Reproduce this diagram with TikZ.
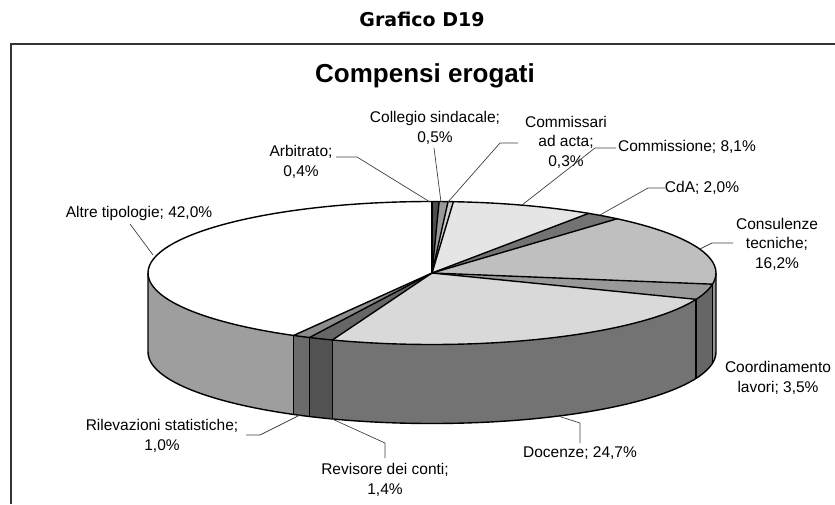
\documentclass[tikz,border=0pt]{standalone}
\usepackage{fontspec}
\setmainfont{Liberation Sans}
\newfontfamily\headfont{DejaVu Sans}
\usetikzlibrary{calc}
\begin{document}
\begin{tikzpicture}[x=1pt,y=1pt]
\useasboundingbox (0,0) rectangle (835,504);
\tikzset{
  lbl/.style={font=\fontsize{15.5}{19.5}\selectfont, align=center, inner sep=0pt},
  leader/.style={draw=black!75, line width=0.7pt},
  pieedge/.style={draw=black, line width=1.4pt, line join=round},
  frameline/.style={draw=black!80, line width=1.2pt},
  ell/.style={x radius=284, y radius=71.5},
}
\coordinate (C) at (432,231);
% frame
\coordinate (fTL) at (11,460);
\coordinate (fTR) at (835,460);
\coordinate (fBL) at (11,0);
\draw[frameline] (fBL) -- (fTL) -- (fTR);
% titles
\node[font=\headfont\bfseries\fontsize{19}{22}\selectfont] (t1) at (422,485) {Grafico D19};
\node[font=\bfseries\fontsize{26}{30}\selectfont] (t2) at (425,428) {Compensi erogati};
% side faces
\foreach \s/\e/\c in {0/-9/black!42, -9/-21.6/black!60, -21.6/-110.52/black!55, -110.52/-115.56/black!68, -115.56/-119.16/black!58, -119.16/-180/black!38}{
  \fill[\c] ([shift={(\s:284 and 71.5)}]C) arc[start angle=\s,end angle=\e,ell] -- ++(0,-79) arc[start angle=\e,end angle=\s,ell] -- cycle;
}
% top faces
\foreach \a/\b/\c in {90/88.56/black!70, 88.56/86.76/black!40, 86.76/85.68/black!20, 85.68/56.52/black!10, 56.52/49.32/black!55, 49.32/-9/black!25, -9/-21.6/black!40, -21.6/-110.52/black!15, -110.52/-115.56/black!60, -115.56/-119.16/black!45, -119.16/-270/white}{
  \fill[\c] (C) -- ([shift={(\a:284 and 71.5)}]C) arc[start angle=\a,end angle=\b,ell] -- cycle;
}
% outlines
\draw[pieedge] (C) ellipse[ell];
\draw[pieedge] ([shift={(0:284 and 71.5)}]C) -- ++(0,-79) arc[start angle=0,end angle=-180,ell] -- ++(0,79);
\foreach \a in {-9,-21.6,-110.52,-115.56,-119.16}{
  \draw[pieedge] ([shift={(\a:284 and 71.5)}]C) -- ++(0,-79);
}
\foreach \a in {90,88.56,86.76,85.68,56.52,49.32,-9,-21.6,-110.52,-115.56,-119.16}{
  \draw[pieedge] (C) -- ([shift={(\a:284 and 71.5)}]C);
}
% labels
\node[lbl] (lAltre) at (139,291) {Altre tipologie; 42,0\%};
\node[lbl] (lArb) at (301,342) {Arbitrato;\\0,4\%};
\node[lbl] (lColl) at (435,376) {Collegio sindacale;\\0,5\%};
\node[lbl] (lComm) at (566,362) {Commissari\\ad acta;\\0,3\%};
\node[lbl] (lCom) at (687,357) {Commissione; 8,1\%};
\node[lbl] (lCdA) at (702,316) {CdA; 2,0\%};
\node[lbl] (lCons) at (777,260) {Consulenze\\tecniche;\\16,2\%};
\node[lbl] (lCoord) at (778,126) {Coordinamento\\lavori; 3,5\%};
\node[lbl] (lDoc) at (580,51) {Docenze; 24,7\%};
\node[lbl] (lRev) at (385,24) {Revisore dei conti;\\1,4\%};
\node[lbl] (lRil) at (162,68) {Rilevazioni statistiche;\\1,0\%};
% leader points
\coordinate (aAltre) at (130,280); \coordinate (eAltre) at (153,249);
\coordinate (aArb) at (336,347); \coordinate (kArb) at (357,347); \coordinate (eArb) at (430,302);
\coordinate (aColl) at (434,356); \coordinate (eColl) at (441,302);
\coordinate (aComm) at (518,361); \coordinate (kComm) at (500,361); \coordinate (eComm) at (448,302);
\coordinate (aCom) at (616,356); \coordinate (kCom) at (595,356); \coordinate (eCom) at (522,299);
\coordinate (aCdA) at (665,316); \coordinate (kCdA) at (648,316); \coordinate (eCdA) at (600,289);
\coordinate (aCons) at (733,261); \coordinate (kCons) at (712,261); \coordinate (eCons) at (700,255);
\coordinate (aDoc) at (580,61); \coordinate (kDoc) at (580,81); \coordinate (eDoc) at (555,89);
\coordinate (aRev) at (385,46); \coordinate (kRev) at (385,61); \coordinate (eRev) at (330,86);
\coordinate (aRil) at (246,69); \coordinate (kRil) at (260,69); \coordinate (eRil) at (300,89);
\draw[leader] (aAltre) -- (eAltre);
\draw[leader] (aArb) -- (kArb) -- (eArb);
\draw[leader] (aColl) -- (eColl);
\draw[leader] (aComm) -- (kComm) -- (eComm);
\draw[leader] (aCom) -- (kCom) -- (eCom);
\draw[leader] (aCdA) -- (kCdA) -- (eCdA);
\draw[leader] (aCons) -- (kCons) -- (eCons);
\draw[leader] (aDoc) -- (kDoc) -- (eDoc);
\draw[leader] (aRev) -- (kRev) -- (eRev);
\draw[leader] (aRil) -- (kRil) -- (eRil);
\end{tikzpicture}
\end{document}
